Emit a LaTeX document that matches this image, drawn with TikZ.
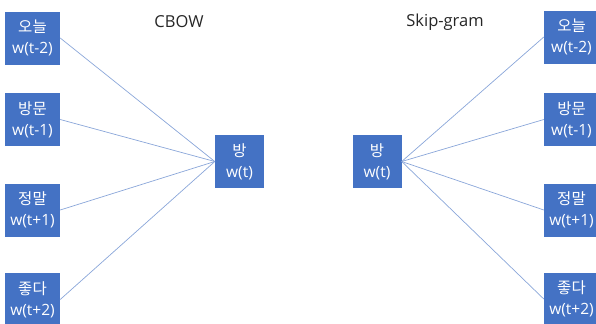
\documentclass[tikz,border=0pt]{standalone}
\usepackage{fontspec}
\setmainfont{Open Sans}
\newfontfamily\kr{Noto Sans CJK KR}
\definecolor{boxblue}{HTML}{4472C4}
\definecolor{linkblue}{HTML}{8AA6D9}
\definecolor{titlegray}{HTML}{262626}
\begin{document}
\begin{tikzpicture}[x=1bp,y=-1bp,
  word/.style={fill=boxblue, text=white, inner sep=0pt, align=center,
    font=\fontsize{15.5bp}{21bp}\selectfont},
  ctx/.style={word, minimum width=55bp, minimum height=53bp},
  mid/.style={word, minimum width=49bp, minimum height=53bp},
  link/.style={draw=linkblue, line width=0.7bp},
  title/.style={text=titlegray, font=\fontsize{16.5bp}{19bp}\selectfont, inner sep=0pt}]
\useasboundingbox (0,0) rectangle (596,323);

% CBOW: four context words feed the centre word
\node[ctx] (l1) at (32.5,38)  {{\kr 오늘}\\w(t-2)};
\node[ctx] (l2) at (32.5,119.5) {{\kr 방문}\\w(t-1)};
\node[ctx] (l3) at (32.5,210) {{\kr 정말}\\w(t+1)};
\node[ctx] (l4) at (32.5,299.5) {{\kr 좋다}\\w(t+2)};
\node[mid] (lc) at (239.5,161.5) {{\kr 방}\\w(t)};
\node[title] (cbow) at (179,22) {CBOW};

% Skip-gram: the centre word predicts four context words
\node[mid] (rc) at (377,161.5) {{\kr 방}\\w(t)};
\node[ctx] (r1) at (571.5,37) {{\kr 오늘}\\w(t-2)};
\node[ctx] (r2) at (571.5,119.5) {{\kr 방문}\\w(t-1)};
\node[ctx] (r3) at (571.5,210) {{\kr 정말}\\w(t+1)};
\node[ctx] (r4) at (571.5,299) {{\kr 좋다}\\w(t+2)};
\node[title] (skip) at (445,22) {Skip-gram};

\foreach \i in {1,...,4} {
  \draw[link] (l\i.east) -- (lc.west);
  \draw[link] (rc.east) -- (r\i.west);
}
\end{tikzpicture}
\end{document}
